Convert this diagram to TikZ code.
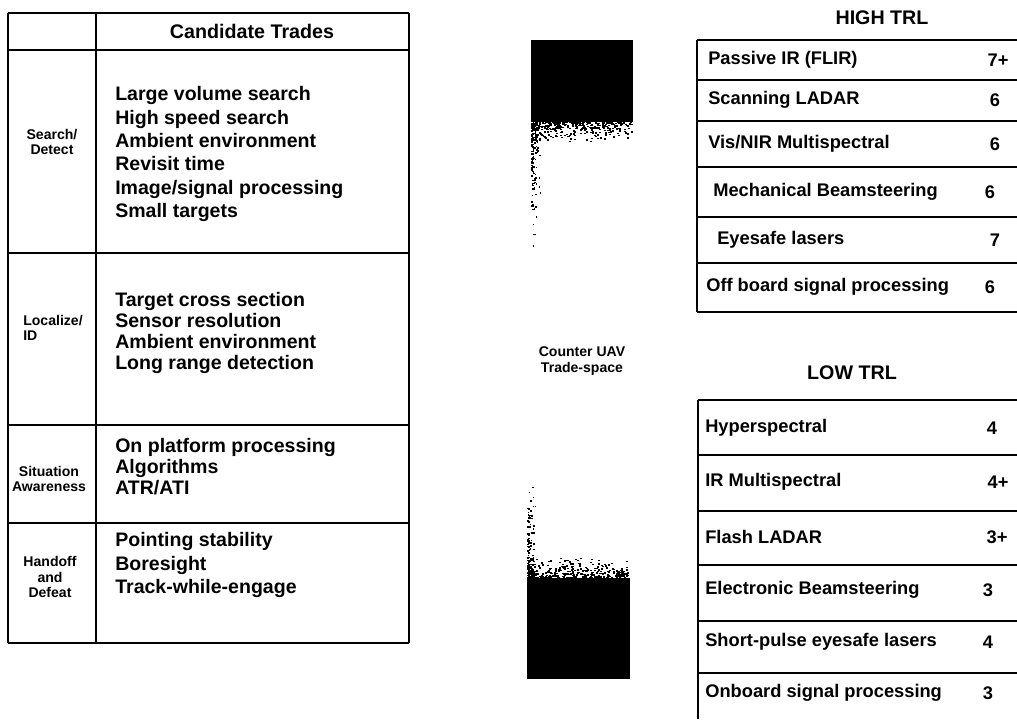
\documentclass[tikz,border=0pt]{standalone}
\usepackage{fontspec}
\setmainfont{Liberation Sans}
\tikzset{
  thinrule/.style={line width=0.8pt},
  heavyrule/.style={line width=1.6pt},
  entry/.style={font=\fontsize{13.9}{15}\selectfont\bfseries, anchor=west, align=left, inner sep=0pt},
  tag/.style={font=\fontsize{10}{11}\selectfont\bfseries, align=center, inner sep=0pt},
  trl/.style={font=\fontsize{13}{15}\selectfont\bfseries, anchor=west, inner sep=0pt},
  trlnum/.style={font=\fontsize{13}{15}\selectfont\bfseries, inner sep=0pt},
  title/.style={font=\fontsize{14}{16}\selectfont\bfseries, inner sep=0pt}
}
\begin{document}
\begin{tikzpicture}[x=0.25mm,y=-0.25mm]
    \useasboundingbox (0,0) rectangle (1017,719);

    % Candidate trades table (left)
    \foreach \x in {8,96,409} \draw[thinrule] (\x,13) -- (\x,643);
    \foreach \y in {13,50,253,425,523,643} \draw[heavyrule] (8,\y) -- (409,\y);
    \node[title] (cand) at (252,31) {Candidate Trades};

    \node[tag] (search) at (52,142) {Search/\\Detect};
    \node[entry, font=\fontsize{13.9}{16.6}\selectfont\bfseries] (searchlist) at (115,154) {Large volume search\\High speed search\\Ambient environment\\Revisit time\\Image/signal processing\\Small targets};

    \node[tag, anchor=west, align=left] (local) at (23,328) {Localize/\\ID};
    \node[entry] (locallist) at (115,333) {Target cross section\\Sensor resolution\\Ambient environment\\Long range detection};

    \node[tag] (sit) at (49,479) {Situation\\Awareness};
    \node[entry] (sitlist) at (115,467) {On platform processing\\Algorithms\\ATR/ATI};

    \node[tag] (hand) at (50,577) {Handoff\\and\\Defeat};
    \node[entry, font=\fontsize{13.9}{16.6}\selectfont\bfseries] (handlist) at (115,565) {Pointing stability\\Boresight\\Track-while-engage};

    % Counter UAV trade-space (middle)
    \pgfmathsetseed{7}
    \fill (531,40) rectangle (633,122);
    \foreach \k in {1,...,520} {
      \pgfmathsetmacro\px{531+100*rnd}
      \pgfmathsetmacro\py{118+24*rnd*rnd}
      \fill (\px,\py) rectangle ++(2,1.5);
    }
    \foreach \k in {1,...,160} {
      \pgfmathsetmacro\px{531+9*rnd*rnd}
      \pgfmathsetmacro\py{122+130*rnd*rnd}
      \fill (\px,\py) rectangle ++(1.5,1.5);
    }
    \node[tag] (cuav) at (582,361) {Counter UAV\\Trade-space};
    \fill (527,578) rectangle (630,679);
    \foreach \k in {1,...,520} {
      \pgfmathsetmacro\px{527+101*rnd}
      \pgfmathsetmacro\py{580-24*rnd*rnd}
      \fill (\px,\py) rectangle ++(2,1.5);
    }
    \foreach \k in {1,...,160} {
      \pgfmathsetmacro\px{527+9*rnd*rnd}
      \pgfmathsetmacro\py{578-105*rnd*rnd}
      \fill (\px,\py) rectangle ++(1.5,1.5);
    }

    % HIGH TRL (top right)
    \node[title] (high) at (882,18) {HIGH TRL};
    \draw[thinrule] (697,40) -- (697,312);
    \foreach \y in {40,80,121,167,217,263,312} \draw[heavyrule] (697,\y) -- (1017,\y);
    \foreach \i/\y/\x/\t/\n/\nx in {1/60/708/{Passive IR (FLIR)}/7+/998,
                                   2/100/708/{Scanning LADAR}/6/995,
                                   3/144/708/{Vis/NIR Multispectral}/6/995,
                                   4/192/713/{Mechanical Beamsteering}/6/990,
                                   5/240/717/{Eyesafe lasers}/7/995,
                                   6/287/706/{Off board signal processing}/6/990} {
      \node[trl] (hi\i) at (\x,\y) {\t};
      \node[trlnum] (hin\i) at (\nx,\y) {\n};
    }

    % LOW TRL (bottom right)
    \node[title] (low) at (852,373) {LOW TRL};
    \draw[thinrule] (698,400) -- (698,719);
    \foreach \y in {400,455,511,565,621,673} \draw[heavyrule] (698,\y) -- (1017,\y);
    \foreach \i/\y/\t/\n/\nx in {1/428/{Hyperspectral}/4/992,
                               2/482/{IR Multispectral}/4+/998,
                               3/537/{Flash LADAR}/3+/997,
                               4/590/{Electronic Beamsteering}/3/988,
                               5/642/{Short-pulse eyesafe lasers}/4/988,
                               6/693/{Onboard signal processing}/3/988} {
      \node[trl] (lo\i) at (705,\y) {\t};
      \node[trlnum] (lon\i) at (\nx,\y) {\n};
    }
\end{tikzpicture}
\end{document}
